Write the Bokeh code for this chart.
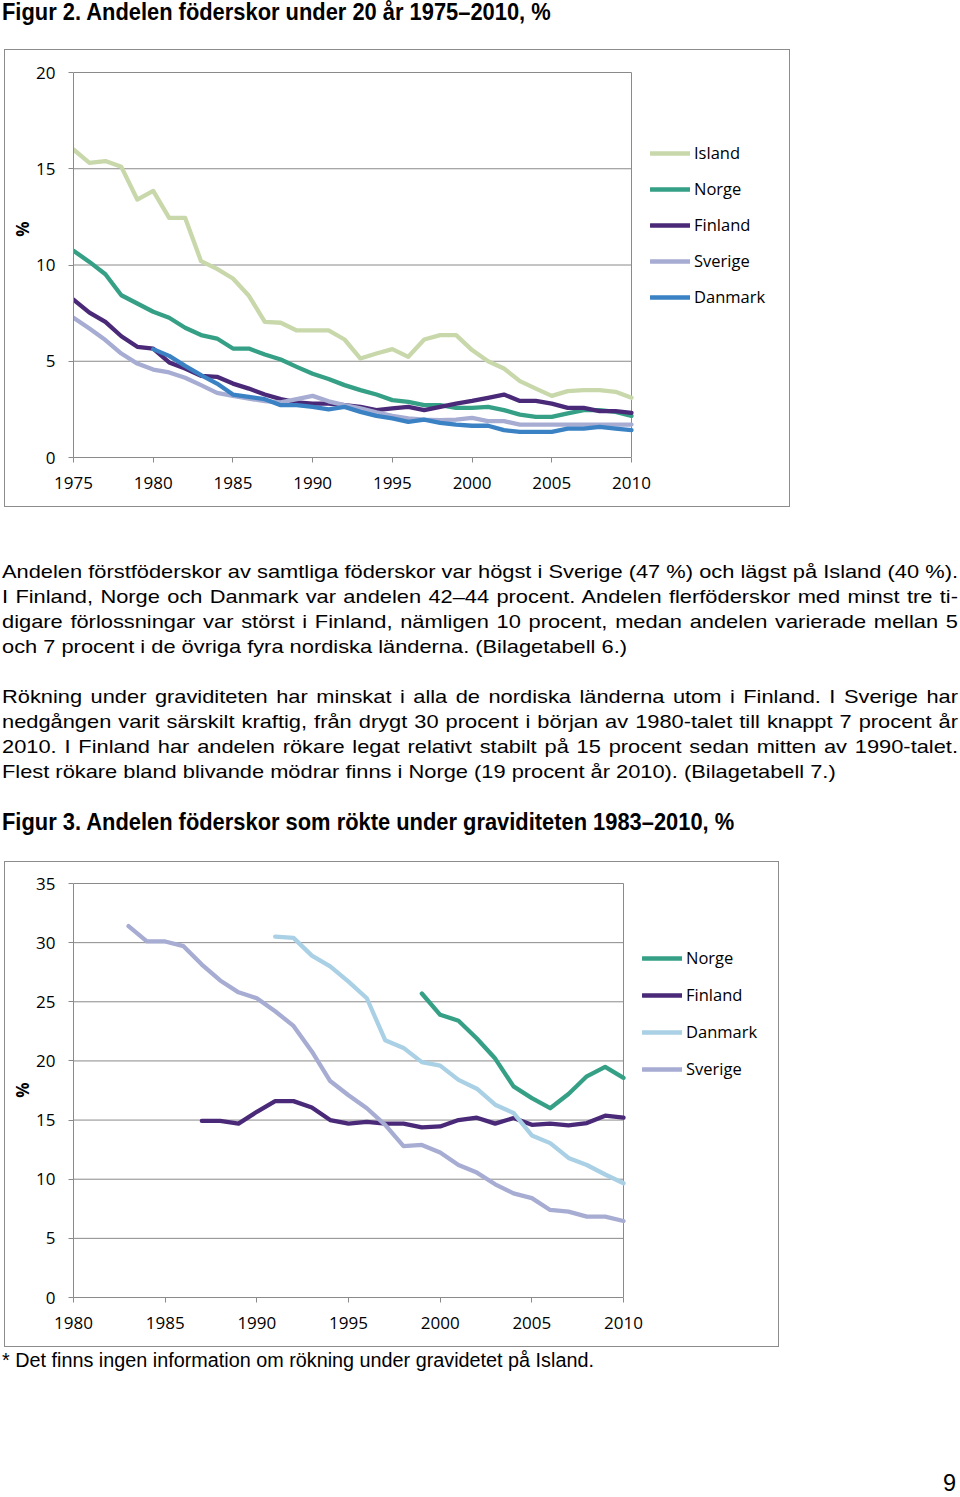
from bokeh.plotting import figure
from bokeh.models import Range1d, Legend, LegendItem, FixedTicker, Div, Title
from bokeh.layouts import column
from bokeh.embed import file_html
from bokeh.resources import INLINE

# ---------------- Data: Figur 2 (föderskor under 20 år, %) ----------------
years_f2 = list(range(1975, 2011))
years_f2_dk = list(range(1980, 2011))
island_f2 = [16.0, 15.3, 15.4, 15.1, 13.4, 13.85, 12.45, 12.45, 10.2, 9.8, 9.3, 8.4, 7.05, 7.0, 6.6, 6.6,
             6.6, 6.13, 5.14, 5.4, 5.63, 5.23, 6.13, 6.36, 6.36, 5.58, 5.0, 4.62, 3.97, 3.58, 3.2, 3.45,
             3.5, 3.5, 3.41, 3.1]
norge_f2 = [10.74, 10.16, 9.52, 8.43, 8.0, 7.57, 7.26, 6.74, 6.36, 6.18, 5.66, 5.66, 5.35, 5.09, 4.71, 4.35,
            4.08, 3.76, 3.5, 3.27, 2.98, 2.89, 2.72, 2.72, 2.58, 2.58, 2.63, 2.46, 2.23, 2.11, 2.11, 2.29,
            2.46, 2.46, 2.37, 2.16]
finland_f2 = [8.2, 7.53, 7.05, 6.3, 5.75, 5.66, 4.94, 4.62, 4.24, 4.19, 3.84, 3.58, 3.27, 3.03, 2.86, 2.8,
              2.8, 2.72, 2.63, 2.46, 2.55, 2.63, 2.46, 2.63, 2.8, 2.94, 3.1, 3.27, 2.94, 2.94, 2.8, 2.58,
              2.58, 2.41, 2.41, 2.32]
sverige_f2 = [7.26, 6.7, 6.1, 5.4, 4.88, 4.57, 4.42, 4.14, 3.76, 3.36, 3.2, 3.06, 2.93, 2.86, 3.03, 3.2,
              2.92, 2.72, 2.55, 2.34, 2.16, 2.03, 1.97, 1.94, 1.97, 2.06, 1.89, 1.89, 1.71, 1.71, 1.71, 1.71,
              1.71, 1.71, 1.71, 1.71]
danmark_f2 = [5.63, 5.28, 4.76, 4.28, 3.84, 3.27, 3.15, 3.03, 2.72, 2.72, 2.63,
              2.5, 2.63, 2.37, 2.16, 2.03, 1.85, 1.97, 1.8, 1.71, 1.65, 1.65, 1.42, 1.33, 1.33, 1.33,
              1.5, 1.5, 1.59, 1.5, 1.42]

# ---------------- Data: Figur 3 (rökning under graviditeten, %) ----------------
years_norge_f3 = list(range(1999, 2011))
norge_f3 = [25.7, 23.9, 23.4, 21.9, 20.2, 17.85, 16.86, 16.0, 17.2, 18.7, 19.5, 18.56]
years_finland_f3 = list(range(1987, 2011))
finland_f3 = [14.93, 14.93, 14.7, 15.7, 16.6, 16.6, 16.06, 15.0, 14.7, 14.85, 14.7, 14.7, 14.38, 14.46,
              15.0, 15.2, 14.7, 15.17, 14.6, 14.7, 14.55, 14.75, 15.37, 15.2]
years_danmark_f3 = list(range(1991, 2011))
danmark_f3 = [30.5, 30.4, 28.9, 28.0, 26.7, 25.3, 21.75, 21.1, 19.9, 19.6, 18.4, 17.65, 16.3, 15.6, 13.7,
              13.05, 11.8, 11.2, 10.4, 9.66]
years_sverige_f3 = list(range(1983, 2011))
sverige_f3 = [31.4, 30.1, 30.1, 29.7, 28.15, 26.8, 25.8, 25.3, 24.2, 22.96, 20.8, 18.3, 17.1, 16.0, 14.6,
              12.8, 12.9, 12.26, 11.2, 10.56, 9.57, 8.8, 8.4, 7.4, 7.26, 6.84, 6.84, 6.47]

f2_xticks = [1975, 1980, 1985, 1990, 1995, 2000, 2005, 2010]
f2_yticks = [0, 5, 10, 15, 20]
f3_xticks = [1980, 1985, 1990, 1995, 2000, 2005, 2010]
f3_yticks = [0, 5, 10, 15, 20, 25, 30, 35]

# ---------------- Styles ----------------
C_ISLAND = "#c8d8aa"
C_NORGE = "#35a085"
C_FINLAND = "#4a2a78"
C_SVERIGE = "#a7acd3"
C_DANMARK = "#3a82c4"
C_DANMARK3 = "#a9d0e4"
GRID = "#8a8a8a"
TICK_FONT = "Open Sans"


def make_chart(width, height, left, top, bottom, plot_w, plot_h, xr, yr, xticks, yticks, series,
               legend_loc, legend_spacing, pct_offset):
    # the frame extends to the right edge so that the legend (drawn inside it) is not clipped;
    # data area = plot_w x plot_h pixels, the rest of the frame holds the legend
    frame_w = width - left - 2
    x_end = xr[0] + (xr[1] - xr[0]) * frame_w / plot_w
    frame_h = height - top - bottom
    y_end = yr[0] + (yr[1] - yr[0]) * frame_h / plot_h
    p = figure(width=width, height=height, output_backend="svg", toolbar_location=None,
               x_range=Range1d(xr[0], x_end), y_range=Range1d(yr[0], y_end),
               min_border_left=left, min_border_right=2,
               min_border_top=top, min_border_bottom=bottom,
               background_fill_color="white", border_fill_color="white",
               margin=(0, 0, 0, 4),
               styles={"border": "1px solid #8c8c8c"})
    p.outline_line_color = None
    p.xgrid.grid_line_color = None
    p.ygrid.grid_line_color = None
    p.xaxis.ticker = FixedTicker(ticks=xticks)
    p.yaxis.ticker = FixedTicker(ticks=yticks)
    p.xaxis.bounds = (xr[0], xr[1])
    p.yaxis.bounds = (yr[0], yr[1])
    for ax in (p.xaxis[0], p.yaxis[0]):
        ax.axis_line_color = GRID
        ax.major_tick_line_color = GRID
        ax.major_tick_out = 5
        ax.major_tick_in = 0
        ax.minor_tick_line_color = None
        ax.major_label_text_font = TICK_FONT
        ax.major_label_text_font_size = "17px"
        ax.major_label_text_color = "#000000"
    p.xaxis.major_label_standoff = 14
    p.yaxis.major_label_standoff = 13

    # horizontal gridlines (at the y ticks) and the right edge of the plot area
    gy = [v for v in yticks if v > yr[0]]
    p.segment(x0=[xr[0]] * len(gy), y0=gy, x1=[xr[1]] * len(gy), y1=gy, line_color=GRID, line_width=1)
    p.segment(x0=[xr[1]], y0=[yr[0]], x1=[xr[1]], y1=[yr[1]], line_color=GRID, line_width=1)

    items = []
    for name, xs, ys, color in series:
        r = p.line(xs, ys, line_color=color, line_width=4.3, line_join="round", line_cap="round")
        items.append(LegendItem(label=name, renderers=[r]))
    legend = Legend(items=items, location=legend_loc, glyph_width=40, glyph_height=20,
                    label_height=20, spacing=legend_spacing, label_standoff=4, padding=10, margin=0,
                    border_line_color=None, background_fill_alpha=0,
                    label_text_font=TICK_FONT, label_text_font_size="16.5px",
                    label_text_color="#000000")
    p.add_layout(legend)
    p.add_layout(Title(text="%", align="right", offset=pct_offset, standoff=0,
                       text_font=TICK_FONT, text_font_size="17px", text_font_style="bold",
                       text_color="#000000"), "left")
    return p


fig2 = make_chart(786, 458, 68, 21, 51, 558, 385, (1975, 2010), (0, 20), f2_xticks, f2_yticks,
                  [("Island", years_f2, island_f2, C_ISLAND),
                   ("Norge", years_f2, norge_f2, C_NORGE),
                   ("Finland", years_f2, finland_f2, C_FINLAND),
                   ("Sverige", years_f2, sverige_f2, C_SVERIGE),
                   ("Danmark", years_f2_dk, danmark_f2, C_DANMARK)],
                  (577, 149), 13, 150)

fig3 = make_chart(775, 486, 68, 20, 51, 550, 414, (1980, 2010), (0, 35), f3_xticks, f3_yticks,
                  [("Norge", years_norge_f3, norge_f3, C_NORGE),
                   ("Finland", years_finland_f3, finland_f3, C_FINLAND),
                   ("Danmark", years_danmark_f3, danmark_f3, C_DANMARK3),
                   ("Sverige", years_sverige_f3, sverige_f3, C_SVERIGE)],
                  (569, 217), 14, 200)

# ---------------- Text ----------------
heading2 = "Figur 2. Andelen föderskor under 20 år 1975–2010, %"
heading3 = "Figur 3. Andelen föderskor som rökte under graviditeten 1983–2010, %"
para1 = ["Andelen förstföderskor av samtliga föderskor var högst i Sverige (47 %) och lägst på Island (40 %).",
         "I Finland, Norge och Danmark var andelen 42–44 procent. Andelen flerföderskor med minst tre ti-",
         "digare förlossningar var störst i Finland, nämligen 10 procent, medan andelen varierade mellan 5",
         "och 7 procent i de övriga fyra nordiska länderna. (Bilagetabell 6.)"]
para2 = ["Rökning under graviditeten har minskat i alla de nordiska länderna utom i Finland. I Sverige har",
         "nedgången varit särskilt kraftig, från drygt 30 procent i början av 1980-talet till knappt 7 procent år",
         "2010. I Finland har andelen rökare legat relativt stabilt på 15 procent sedan mitten av 1990-talet.",
         "Flest rökare bland blivande mödrar finns i Norge (19 procent år 2010). (Bilagetabell 7.)"]
footnote = "* Det finns ingen information om rökning under gravidetet på Island."
page_no = "9"

BODY = "font-family:'Liberation Sans',Arial,sans-serif;color:#000;"


def scaled(text, size, bold, lh, sx, extra=""):
    w = "bold" if bold else "normal"
    return (f'<div style="{BODY}font-size:{size}px;font-weight:{w};line-height:{lh}px;height:{lh}px;'
            f'white-space:nowrap;margin-left:2px;{extra}"><span style="display:inline-block;'
            f'transform:scaleX({sx});transform-origin:0 0;">{text}</span></div>')


def para(lines, margin_top):
    out = []
    for i, t in enumerate(lines):
        last = i == len(lines) - 1
        mt = margin_top if i == 0 else 0
        out.append(f'<div style="{BODY}font-size:19px;line-height:25px;height:25px;white-space:nowrap;'
                   f'width:832px;margin-left:2px;transform:scaleX(1.149);transform-origin:0 0;'
                   f'text-align:justify;text-align-last:{"left" if last else "justify"};'
                   f'margin-top:{mt}px;">{t}</div>')
    return "".join(out)


div_h1 = Div(text=scaled(heading2, 23, True, 24, 0.951), width=958, height=49, margin=0)
div_mid = Div(text=para(para1, 52) + para(para2, 25) + scaled(heading3, 23, True, 25, 0.951, "margin-top:26px;"),
              width=958, height=354, margin=0)
div_foot = Div(text=scaled(footnote, 19.5, False, 24, 1.015, "padding-top:1px;") +
               f'<div style="{BODY}font-size:23.5px;line-height:24px;height:24px;text-align:right;'
               f'width:956px;margin-top:100px;">{page_no}</div>',
               width=958, height=150, margin=0)

layout = column(div_h1, fig2, div_mid, fig3, div_foot, spacing=0)

with open("out.html", "w") as f:
    f.write(file_html(layout, INLINE))
